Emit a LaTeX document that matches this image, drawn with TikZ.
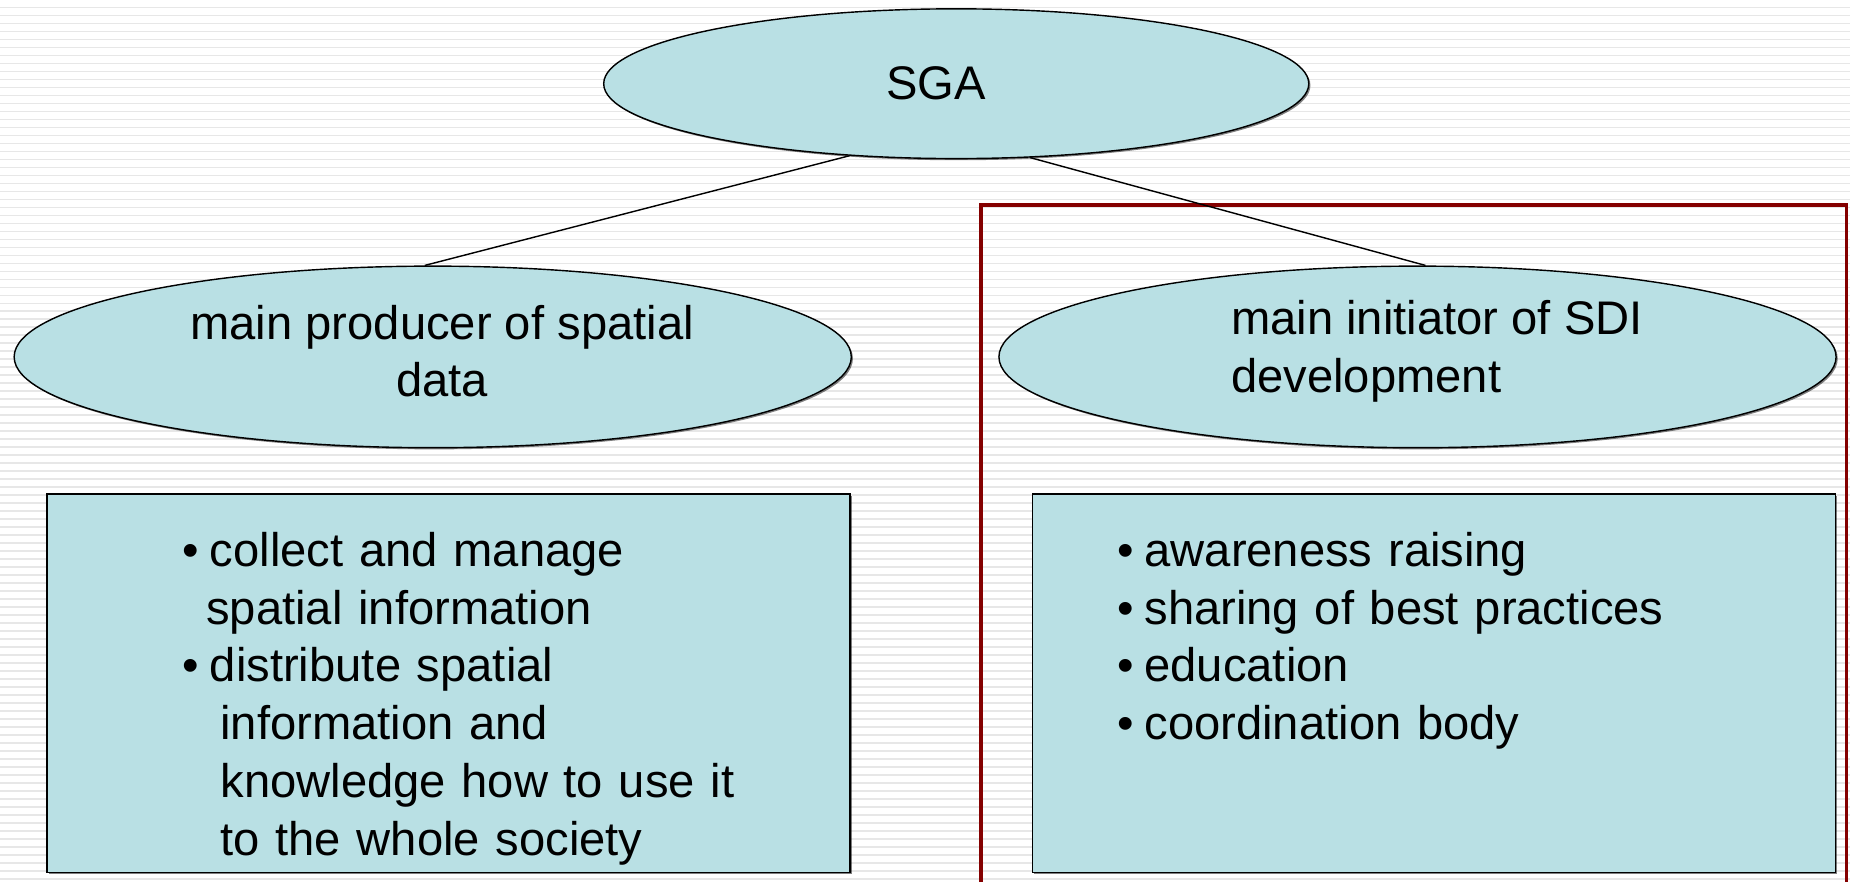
\documentclass[tikz,border=0pt]{standalone}
\usepackage{fontspec}
\setmainfont{Liberation Sans}
\usetikzlibrary{positioning,shapes.geometric,shadows}
\definecolor{boxfill}{HTML}{B9E0E4}
\definecolor{framered}{HTML}{840000}

\begin{document}
\begin{tikzpicture}[
        font=\fontsize{20pt}{24.5pt}\selectfont,
        oval/.style={draw, ellipse, fill=boxfill, align=center, inner sep=0pt, minimum width=355pt, minimum height=77pt, line width=0.6pt, drop shadow={shadow xshift=0.7pt, shadow yshift=-0.7pt, opacity=0.5, fill=black}},
        itembox/.style={draw, rectangle, fill=boxfill, minimum width=340.5pt, minimum height=160.5pt, inner sep=0pt, text width=340.5pt, text height=30.5pt, text depth=129.5pt, align=left, line width=0.6pt, drop shadow={shadow xshift=0.7pt, shadow yshift=-0.7pt, opacity=0.5, fill=black}},
        link/.style={line width=0.6pt},
        stripe/.style={gray!19, line width=0.7pt},
        node distance=19pt
    ]

    \useasboundingbox (0,0) rectangle (784.5pt,-374pt);

    % Background
    \foreach \k in {0,...,110}
        \draw[stripe] ({0pt},{-3.2pt-\k*3.39pt}) -- ++(784.5pt,0);
    \draw[framered, line width=1.5pt] (416pt,-380pt) -- (416pt,-87pt) -- (783pt,-87pt) -- (783pt,-380pt);

    % Nodes
    \node[oval, minimum width=299pt, minimum height=63.5pt] (sga) at (405.5pt,-35.5pt) {SGA\hspace*{17pt}};
    \node[oval, below=45pt of sga, xshift=-222pt, text depth=5pt] (lprod) {\hspace*{8pt}main producer of spatial\\\hspace*{8pt}data};
    \node[oval, right=62pt of lprod, align=left, text depth=9pt] (rinit) {\hspace*{16.5pt}main initiator of SDI\\\hspace*{16.5pt}development};
    \node[itembox, below=of lprod, xshift=6.75pt] (lbox) {\leftskip=57.5pt
        \textbullet\hspace{4.5pt}collect and manage\\\hspace*{10pt}spatial information\\
        \textbullet\hspace{4.5pt}distribute spatial\\\hspace*{16pt}information and\\\hspace*{16pt}knowledge how to use it\\\hspace*{16pt}to the whole society\par};
    \node[itembox, below=of rinit, xshift=7pt] (rbox) {\leftskip=36pt
        \textbullet\hspace{4.5pt}awareness raising\\\textbullet\hspace{4.5pt}sharing of best practices\\
        \textbullet\hspace{4.5pt}education\\\textbullet\hspace{4.5pt}coordination body\par};

    % Lines
    \draw[link] (sga.214) -- (lprod.95);
    \draw[link] (sga.315) -- (rinit.85);

\end{tikzpicture}
\end{document}
